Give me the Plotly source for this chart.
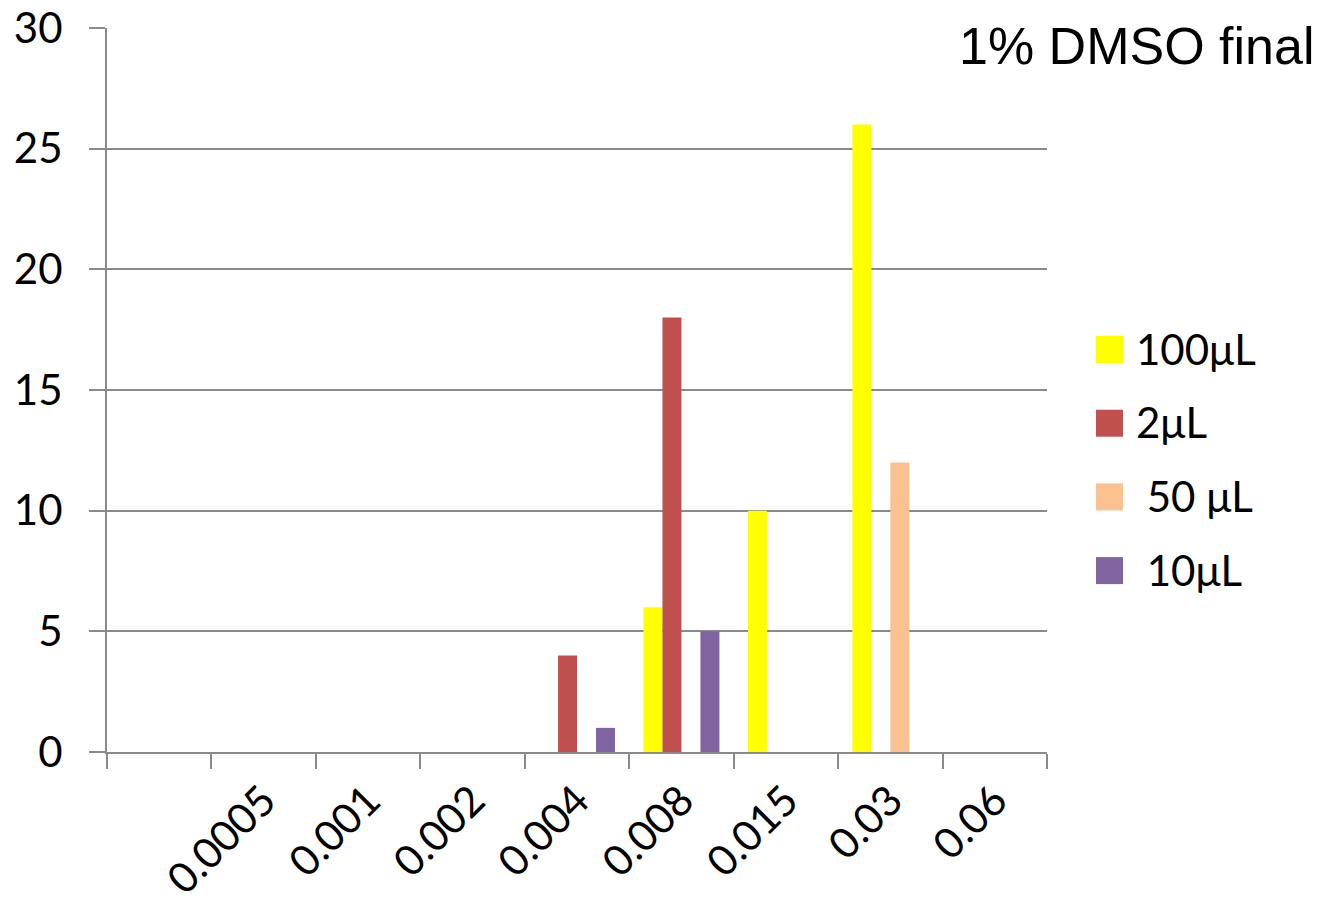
import plotly.graph_objects as go

# Concentrations along the x axis (first slot is an unlabeled empty category)
categories = ["", "0.0005", "0.001", "0.002", "0.004", "0.008", "0.015", "0.03", "0.06"]

# Counts per volume series (None = no bar)
series_names = ["100μL", "2μL", " 50 μL", " 10μL"]
vals_100uL = [None, None, None, None, None, 6, 10, 26, None]
vals_2uL = [None, None, None, None, 4, 18, None, None, None]
vals_50uL = [None, None, None, None, None, None, None, 12, None]
vals_10uL = [None, None, None, None, 1, 5, None, None, None]
series_values = [vals_100uL, vals_2uL, vals_50uL, vals_10uL]
series_colors = ["#FFFF00", "#C0504D", "#FAC090", "#8064A2"]

y_ticks = [0, 5, 10, 15, 20, 25, 30]
title_text = "1% DMSO final"

W, H = 1327, 909
L, R, T, B = 107, 1047, 28, 752  # plot area in pixels
AXIS_GRAY = "#8a8a8a"
TICK_FONT = dict(family="Lato, Carlito, Calibri, sans-serif", size=42, color="black")

x_idx = list(range(len(categories)))

fig = go.Figure()
for name, vals, color in zip(series_names, series_values, series_colors):
    fig.add_trace(go.Bar(
        x=x_idx, y=vals, name=name,
        marker=dict(color=color, line=dict(width=0)),
        showlegend=False,
    ))


def px_x(p):
    return (p - L) / (R - L)


def px_y(p):
    return (B - p) / (B - T)


# Legend drawn as square swatches with labels to the right of the plot
legend_top = 349.5
legend_step = 73.7
for i, (name, color) in enumerate(zip(series_names, series_colors)):
    cy = legend_top + i * legend_step
    fig.add_shape(type="rect", xref="paper", yref="paper",
                  x0=px_x(1096), x1=px_x(1123),
                  y0=px_y(cy + 13.5), y1=px_y(cy - 13.5),
                  fillcolor=color, line=dict(width=0))
    fig.add_annotation(xref="paper", yref="paper",
                       x=px_x(1134), y=px_y(cy - 1),
                       xanchor="left", yanchor="middle",
                       text=name.replace(" ", "\u00a0"),
                       showarrow=False, font=TICK_FONT)

fig.add_annotation(xref="paper", yref="paper",
                   x=px_x(957), y=px_y(46),
                   xanchor="left", yanchor="middle",
                   text=title_text, showarrow=False,
                   font=dict(family="Liberation Sans, Arial, sans-serif", size=52, color="black"))

fig.update_layout(
    width=W, height=H,
    margin=dict(l=L, r=W - R, t=T, b=H - B, pad=0, autoexpand=False),
    paper_bgcolor="white", plot_bgcolor="white",
    barmode="group", bargap=0.273, bargroupgap=0,
    showlegend=False,
)

fig.update_xaxes(
    automargin=False,
    range=[-0.5, len(categories) - 0.5],
    tickmode="array", tickvals=x_idx, ticktext=categories,
    tickangle=-45, ticks="", tickfont=TICK_FONT,
    showgrid=False, zeroline=False,
    showline=True, linecolor=AXIS_GRAY, linewidth=2,
    minor=dict(tickmode="array",
               tickvals=[i - 0.5 for i in range(len(categories) + 1)],
               ticks="outside", ticklen=15, tickwidth=2, tickcolor=AXIS_GRAY,
               showgrid=False),
    ticklabelstandoff=5,
)

fig.update_yaxes(
    automargin=False,
    range=[0, 30], tickmode="array", tickvals=y_ticks,
    ticks="outside", ticklen=16, tickwidth=2, tickcolor=AXIS_GRAY,
    tickfont=TICK_FONT,
    showgrid=True, gridcolor=AXIS_GRAY, gridwidth=2,
    zeroline=False,
    showline=True, linecolor=AXIS_GRAY, linewidth=2,
    ticklabelstandoff=18,
)

fig.write_html("out.html")
